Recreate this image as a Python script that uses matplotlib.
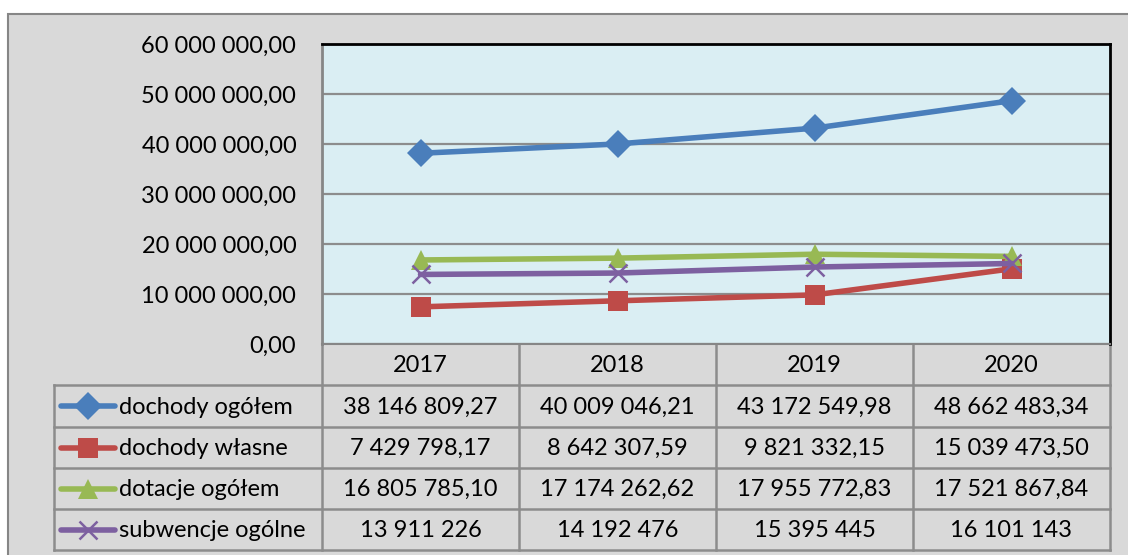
import matplotlib
matplotlib.use("Agg")
import matplotlib.pyplot as plt
from matplotlib.patches import Rectangle
from matplotlib.lines import Line2D
from matplotlib.ticker import FuncFormatter, MultipleLocator

plt.rcParams['font.family'] = ['Lato', 'DejaVu Sans']

years = ["2017", "2018", "2019", "2020"]
series_names = ["dochody ogółem", "dochody własne", "dotacje ogółem", "subwencje ogólne"]
dochody_ogolem = [38146809.27, 40009046.21, 43172549.98, 48662483.34]
dochody_wlasne = [7429798.17, 8642307.59, 9821332.15, 15039473.50]
dotacje_ogolem = [16805785.10, 17174262.62, 17955772.83, 17521867.84]
subwencje_ogolne = [13911226, 14192476, 15395445, 16101143]
series_values = [dochody_ogolem, dochody_wlasne, dotacje_ogolem, subwencje_ogolne]
series_decimals = [2, 2, 2, 0]
colors = ["#4A7EBB", "#BE4B48", "#98B954", "#7D60A0"]
markers = ["D", "s", "^", "x"]
msizes = [14, 14.5, 15, 12.5]


def fmt(v, dec):
    s = f"{v:,.{dec}f}"
    s = s.replace(",", " ").replace(".", ",")
    return s


W, H = 1128, 555
fig = plt.figure(figsize=(W / 100, H / 100), dpi=100)
fig.patch.set_facecolor("white")

# background / table axes in pixel coordinates
bg = fig.add_axes([0, 0, 1, 1])
bg.set_xlim(0, W)
bg.set_ylim(H, 0)
bg.axis("off")
bg.add_patch(Rectangle((8, 14), 1130, 560, facecolor="#D9D9D9",
                       edgecolor="#868686", linewidth=1.5, zorder=0))

# plot axes
pl, pr, pt, pb = 322, 1110, 44, 344
ax = fig.add_axes([pl / W, (H - pb) / H, (pr - pl) / W, (pb - pt) / H])
ax.set_facecolor("#DAEEF3")
x = list(range(len(years)))
for vals, c, m, ms in zip(series_values, colors, markers, msizes):
    ax.plot(x, vals, color=c, linewidth=4.0, marker=m, markersize=ms,
            markeredgewidth=1.8 if m == "x" else 0, markeredgecolor=c,
            solid_capstyle="round", zorder=3)
ax.set_xlim(-0.5, len(years) - 0.5)
ax.set_ylim(0, 60000000)
ax.yaxis.set_major_locator(MultipleLocator(10000000))
ax.yaxis.set_major_formatter(FuncFormatter(lambda v, p: fmt(v, 2)))
ax.grid(axis="y", color="#8C8C8C", linewidth=1.6)
ax.set_axisbelow(True)
ax.set_xticks([])
ax.tick_params(axis="y", length=0, pad=18.5, labelsize=17)
for sp in ["top", "right"]:
    ax.spines[sp].set_color("black")
    ax.spines[sp].set_linewidth(2)
ax.spines["left"].set_color("#868686")
ax.spines["left"].set_linewidth(2)
ax.spines["bottom"].set_color("#868686")
ax.spines["bottom"].set_linewidth(1.5)

# data table
gc = "#8C8C8C"
col_x = [322, 519, 716, 913, 1110]
row_y = [344, 385, 427, 468, 509, 550]
tl = 54
for cx in col_x:
    bg.add_line(Line2D([cx, cx], [row_y[0], row_y[-1]], color=gc, lw=1.8, zorder=2))
bg.add_line(Line2D([tl, tl], [row_y[1], row_y[-1]], color=gc, lw=1.8, zorder=2))
for ry in row_y[1:]:
    bg.add_line(Line2D([tl, col_x[-1]], [ry, ry], color=gc, lw=1.8, zorder=2))

for j, yr in enumerate(years):
    cx = (col_x[j] + col_x[j + 1]) / 2
    bg.text(cx, (row_y[0] + row_y[1]) / 2 + 1, yr, ha="center", va="center",
            fontsize=17, color="black")

for i, (name, vals, dec, c, m, ms) in enumerate(zip(series_names, series_values,
                                                     series_decimals, colors, markers, msizes)):
    cy = (row_y[i + 1] + row_y[i + 2]) / 2
    bg.add_line(Line2D([61, 115], [cy, cy], color=c, lw=4.0, solid_capstyle="round", zorder=3))
    bg.add_line(Line2D([88], [cy], color=c, marker=m, markersize=ms,
                       markeredgewidth=1.8 if m == "x" else 0, markeredgecolor=c, zorder=4))
    bg.text(119, cy + 1, name, ha="left", va="center", fontsize=17, color="black")
    for j, v in enumerate(vals):
        cx = (col_x[j] + col_x[j + 1]) / 2
        bg.text(cx, cy + 1, fmt(v, dec), ha="center", va="center", fontsize=17, color="black")

fig.savefig("out.png", dpi=100, facecolor=fig.get_facecolor())
